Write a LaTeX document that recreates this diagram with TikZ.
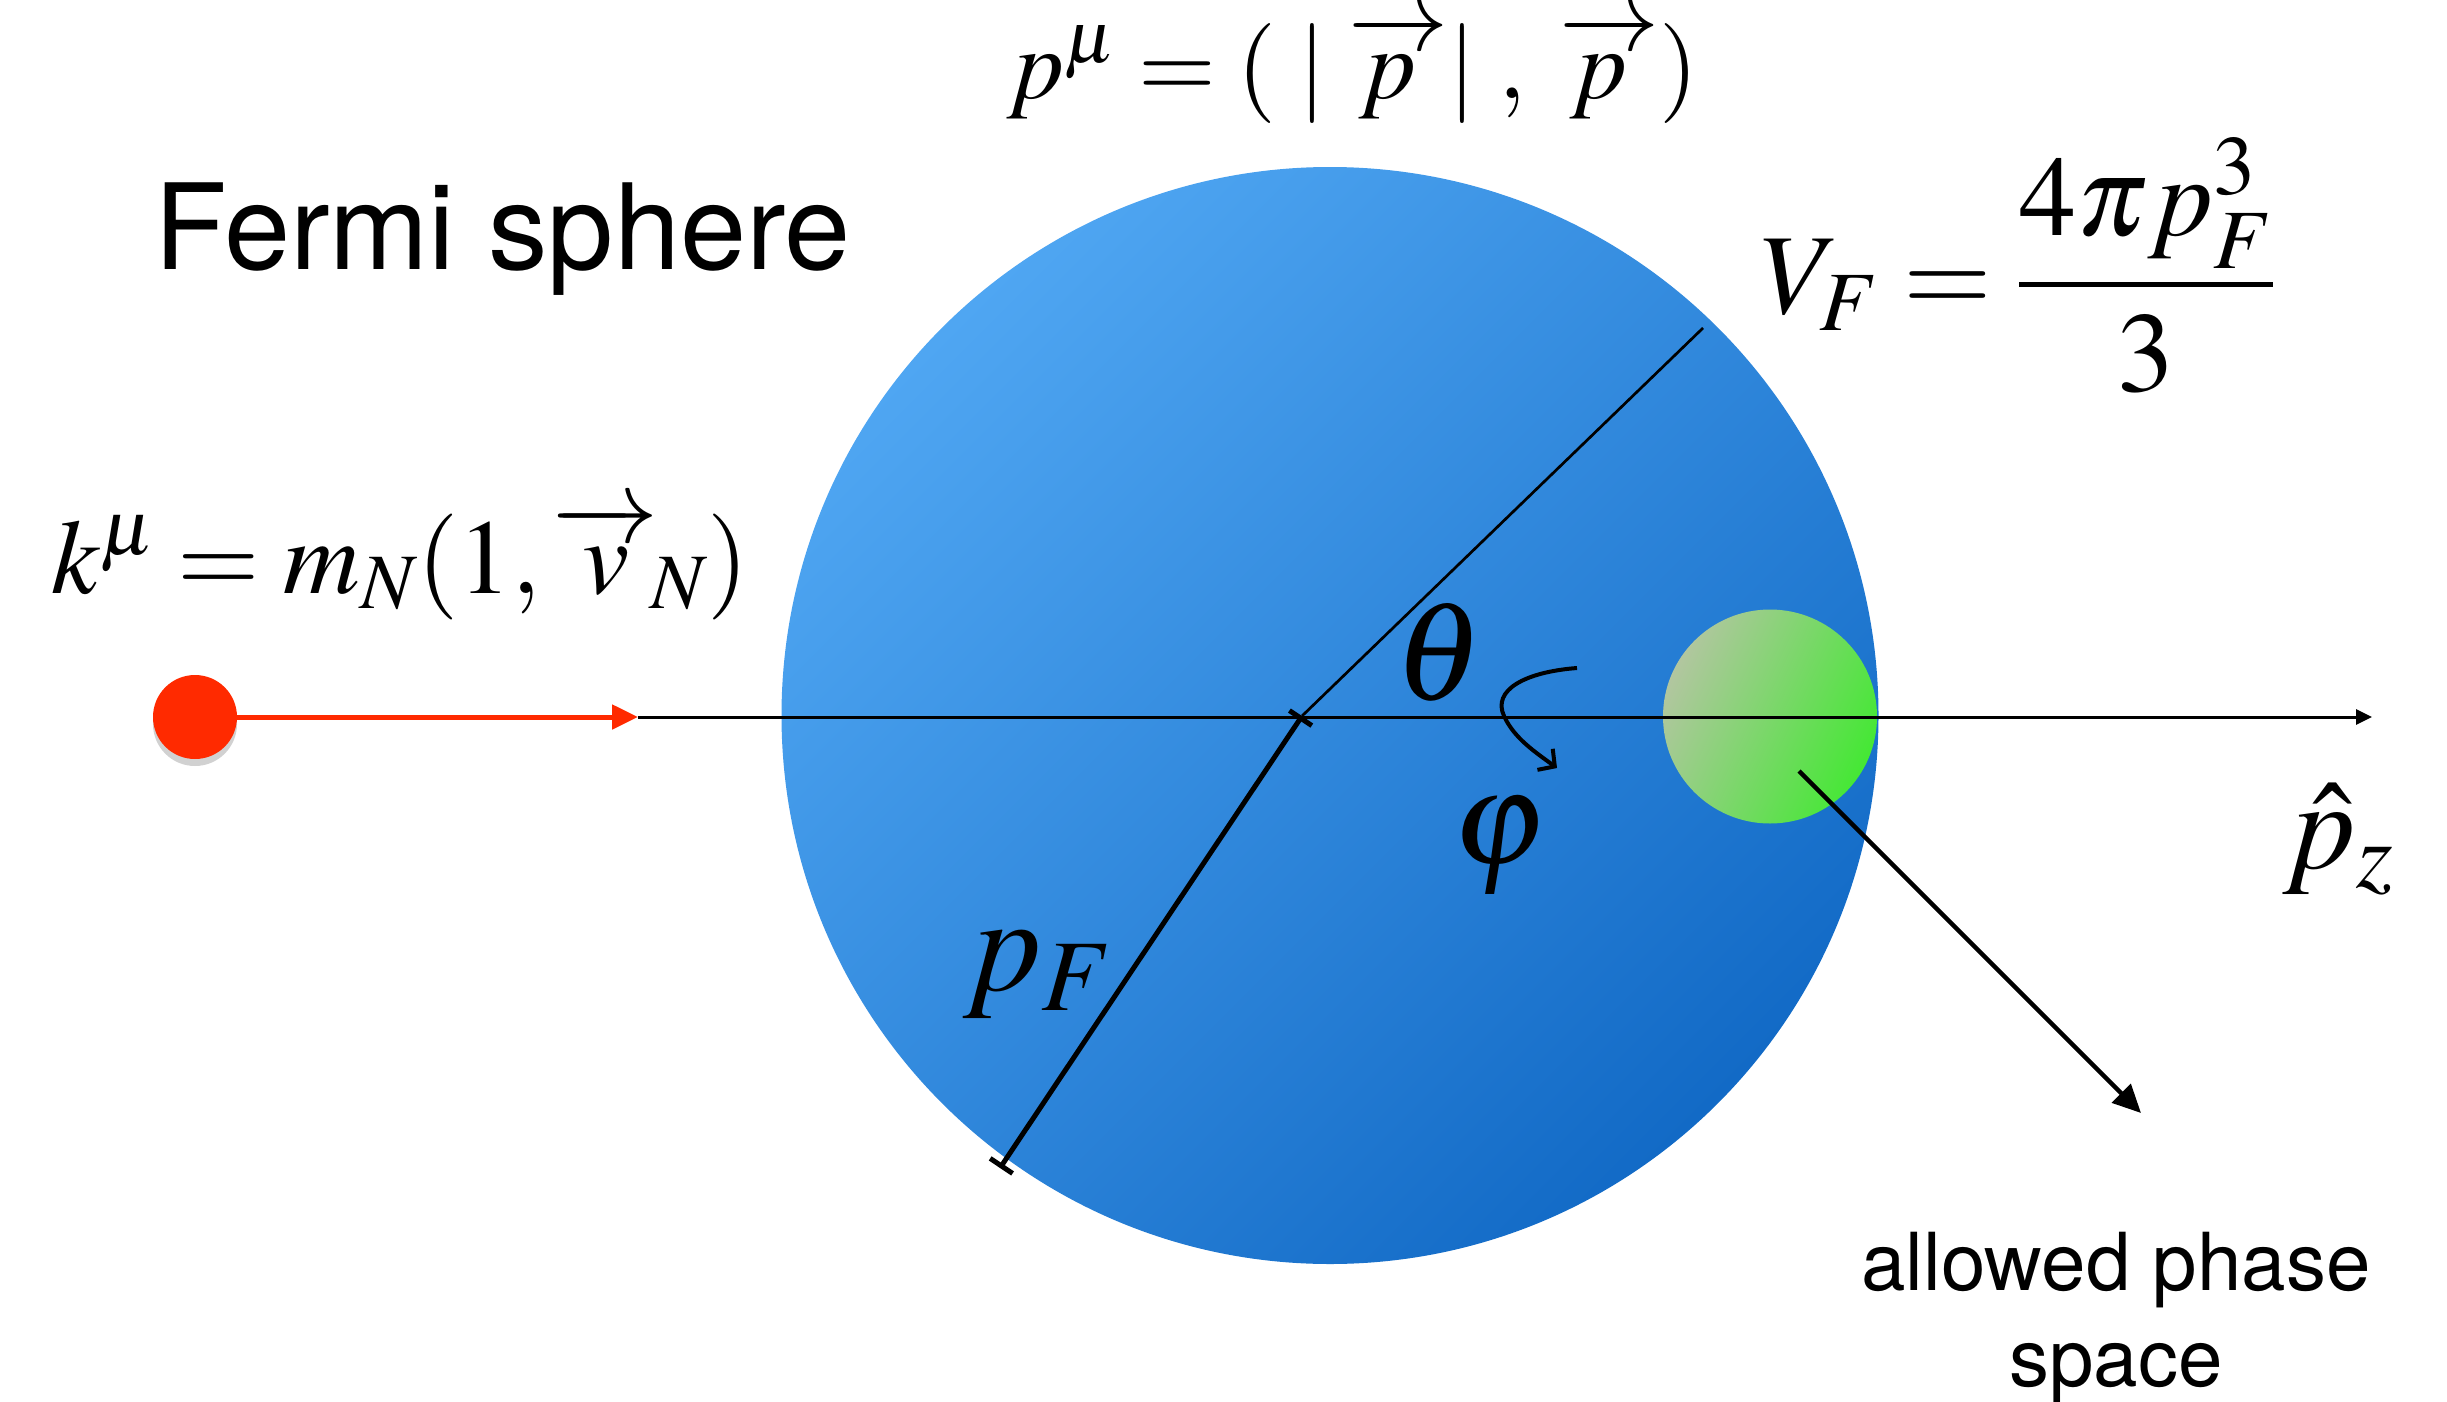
\documentclass[tikz,border=0pt]{standalone}
\usepackage{mathptmx}
\usepackage[no-math]{fontspec}
\newfontfamily\heros{TeX Gyre Heros}
\usetikzlibrary{arrows.meta}
\definecolor{blueL}{HTML}{4FA6F2}
\definecolor{blueD}{HTML}{126AC6}
\definecolor{greenL}{HTML}{B2C6A0}
\definecolor{greenD}{HTML}{44E834}
\definecolor{redN}{HTML}{FF2A00}
\newcommand{\vecstrut}{\rule{0pt}{0.49em}}
\tikzset{
  lbl/.style={inner sep=0pt},
  mathbig/.style={lbl, font=\fontsize{#1}{#1}\selectfont},
  redline/.style={redN, line width=5pt, -{Triangle[length=26pt,width=24pt]}},
  axisline/.style={black, line width=3pt, -{Triangle[length=16pt,width=15pt]}},
  radthin/.style={black, line width=2.7pt},
  radthick/.style={black, line width=5pt, {Bar[width=27pt,line width=5pt]}-{Bar[width=27pt,line width=5pt]}},
  outarrow/.style={black, line width=4.5pt, -{Triangle[length=28pt,width=26pt]}},
  rotarrow/.style={black, line width=4pt, -{Straight Barb[length=12pt,width=26pt,line width=4pt]}},
}
\begin{document}
\begin{tikzpicture}[x=1pt,y=-1pt]
\useasboundingbox (0,0) rectangle (2447,1402);
% sphere and phase-space ball
\node[circle, minimum size=1097pt, inner sep=0pt, top color=blueL, bottom color=blueD, shading angle=45] (sphere) at (1330,715.5) {};
\node[circle, minimum size=214pt, inner sep=0pt, top color=greenL, bottom color=greenD, shading angle=65] (phase) at (1770,716.5) {};
% nucleon
\fill[black, opacity=0.18] (195,724) circle [radius=42pt];
\node[circle, minimum size=84pt, inner sep=0pt, fill=redN] (dot) at (195,717) {};
% coordinates
\coordinate (redEnd) at (638,717);
\coordinate (axisEnd) at (2372,717);
\coordinate (origin) at (1302,716);
\coordinate (rimUp) at (1703,328);
\coordinate (rimLow) at (1000,1168);
\coordinate (outS) at (1799,771);
\coordinate (outE) at (2141,1113);
\coordinate (rotS) at (1577,668);
\coordinate (rotE) at (1557,768);
% connectors
\draw[redline] (dot.east) -- (redEnd);
\draw[axisline] (redEnd) -- (axisEnd);
\draw[radthin] (origin) -- (rimUp);
\draw[radthick] (origin) -- (rimLow);
\draw[outarrow] (outS) -- (outE);
\draw[rotarrow] (rotS) .. controls (1525,672) and (1492,690) .. (1504,716) .. controls (1514,738) and (1535,752) .. (rotE);
% labels
\node[lbl, anchor=base west, font={\heros\fontsize{119}{130}\selectfont}] (fermi) at (154,269) {Fermi sphere};
\node[lbl, anchor=north, align=center, font={\heros\fontsize{80}{96}\selectfont}] (allowed) at (2116,1232) {allowed phase\\space};
\node[mathbig=100, anchor=base west] (pmu) at (1007,99) {$p^{\mu} = (\;|\;\overrightarrow{\vecstrut p\;}|\;,\;\overrightarrow{\vecstrut p\;})$};
\node[mathbig=106, anchor=base west] (kmu) at (51,593) {$k^{\mu} = m_N(1,\overrightarrow{\vecstrut\,v\,}_{\!N})$};
\node[mathbig=114, anchor=base west] (vf) at (1761,313) {$V_F = {\displaystyle\frac{4\pi p_F^3}{3}}$};
\node[mathbig=140] (theta) at (1439,652) {$\theta$};
\node[mathbig=135] (phi) at (1499,846) {$\varphi$};
\node[mathbig=137, anchor=base west] (pf) at (963,990) {$p_F$};
\node[mathbig=127, anchor=base west] (pz) at (2283,868) {$\hat{p}_z$};
\end{tikzpicture}
\end{document}
